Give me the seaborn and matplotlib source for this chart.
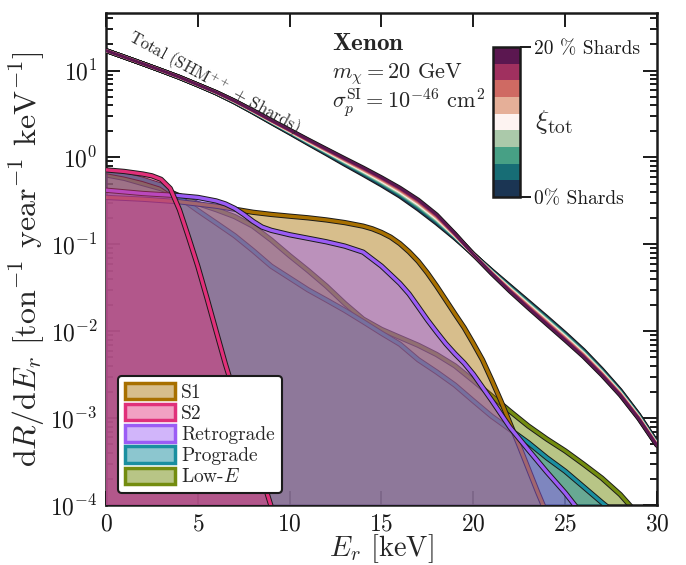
import numpy as np
import pandas as pd
import matplotlib
matplotlib.use("Agg")
import matplotlib.pyplot as plt
import matplotlib.patheffects as pe
from matplotlib.patches import Patch
from matplotlib.colors import ListedColormap, Normalize, to_rgba
from matplotlib.cm import ScalarMappable
from matplotlib.ticker import LogLocator, NullFormatter
import seaborn as sns

# ---------------- data ----------------
# Total rate, SHM++ only (0% shards) and with 20% shards
E_total = list(range(0, 31))
rate_0pct = [17.0, 14.3, 12.0, 10.0, 8.3, 6.8, 5.50, 4.32, 3.31, 2.51, 1.91, 1.445,
             1.10, 0.832, 0.635, 0.481, 0.358, 0.254, 0.175, 0.1175, 0.0767, 0.0501,
             0.0331, 0.0219, 0.01445, 0.00944, 0.00603, 0.00363, 0.00209, 0.0011,
             5.25e-4]
rate_20pct = [17.0, 14.3, 12.0, 10.07, 8.41, 6.87, 5.62, 4.47, 3.47, 2.67, 2.07, 1.60,
              1.245, 0.970, 0.759, 0.586, 0.445, 0.324, 0.219, 0.132, 0.0767, 0.0462,
              0.0288, 0.01854, 0.01208, 0.00789, 0.0051, 0.00313, 0.00184, 9.9e-4,
              4.84e-4]
xi_values = [0, 2.5, 5, 7.5, 10, 12.5, 15, 17.5, 20]   # % shards

E_S1 = [0, 2, 4, 6, 7, 8, 9, 10, 11, 12, 13, 14, 14.5, 15, 15.5, 16, 16.5, 17,
        17.5, 18, 18.5, 19, 19.5, 20, 20.5, 21, 21.5, 22, 22.5, 23, 23.5, 24]
rate_S1 = [0.347, 0.331, 0.309, 0.275, 0.254, 0.234, 0.221, 0.211, 0.202, 0.191,
           0.178, 0.162, 0.151, 0.137, 0.121, 0.102, 0.0822, 0.0638, 0.0468,
           0.0331, 0.0229, 0.0158, 0.011, 0.00724, 0.00468, 0.00275, 0.00158,
           8.7e-4, 4.8e-4, 2.6e-4, 1.41e-4, 7.9e-5]

E_S2 = [0, 1, 2, 2.5, 3, 3.5, 4, 4.5, 5, 5.5, 6, 6.5, 7, 7.5, 8, 8.5, 9]
rate_S2 = [0.72, 0.69, 0.645, 0.615, 0.56, 0.44, 0.25, 0.12, 0.056, 0.024, 0.010,
           0.0042, 0.0019, 8.9e-4, 4.3e-4, 2.1e-4, 9.5e-5]

E_retro = [0, 2, 4, 5, 6, 6.5, 7, 7.5, 8, 8.5, 9, 10, 11, 12, 13, 14, 14.5, 15,
           15.5, 16, 16.5, 17, 17.5, 18, 18.5, 19, 19.5, 20, 21, 22, 23, 24, 25, 25.6]
rate_retro = [0.42, 0.385, 0.363, 0.347, 0.316, 0.292, 0.26, 0.221, 0.184, 0.158,
              0.145, 0.129, 0.1175, 0.107, 0.0955, 0.0813, 0.0676, 0.0562, 0.0447,
              0.0355, 0.0269, 0.0191, 0.0135, 0.0098, 0.0072, 0.0055, 0.0043,
              0.0032, 0.0016, 7.8e-4, 4.3e-4, 2.4e-4, 1.38e-4, 9.5e-5]

E_pro = [0, 1, 2, 3, 4, 5, 6, 7, 8, 9, 10, 11, 12, 13, 14, 15, 16, 17, 18, 19,
         20, 21, 22, 23, 24, 25, 26, 27, 27.3]
rate_pro = [0.69, 0.63, 0.56, 0.48, 0.347, 0.245, 0.176, 0.126, 0.085, 0.056,
            0.041, 0.030, 0.0229, 0.0174, 0.0129, 0.0095, 0.0071, 0.0047, 0.0034,
            0.0024, 0.00158, 0.00105, 7.4e-4, 5.2e-4, 3.5e-4, 2.45e-4, 1.62e-4,
            1.07e-4, 9.5e-5]

E_lowE = [0, 1, 2, 3, 4, 5, 6, 7, 8, 9, 10, 11, 12, 13, 14, 15, 16, 17, 18, 19,
          20, 21, 22, 23, 24, 25, 26, 27, 28, 28.6]
rate_lowE = [0.63, 0.575, 0.50, 0.437, 0.363, 0.295, 0.251, 0.209, 0.162, 0.112,
             0.0741, 0.0501, 0.0331, 0.0209, 0.0138, 0.0105, 0.0085, 0.0069,
             0.0054, 0.0040, 0.0027, 0.0018, 0.0012, 8.1e-4, 5.75e-4, 4.2e-4,
             2.95e-4, 2.04e-4, 1.32e-4, 9.5e-5]

legend_labels = ["S1", "S2", "Retrograde", "Prograde", "Low-$E$"]
x_ticks = [0, 5, 10, 15, 20, 25, 30]
cbar_ticklabels = ["0% Shards", "20 % Shards"]

# ---------------- styles ----------------
edge_colors = {"S1": "#A87000", "S2": "#E0307A", "Retrograde": "#9B5CF5",
               "Prograde": "#1A8FA0", "Low-$E$": "#738C0F"}
alphas = {"S1": 0.45, "S2": 0.45, "Retrograde": 0.45, "Prograde": 0.5, "Low-$E$": 0.5}
xi_colors = ["#1B3553", "#176D75", "#47A085", "#ABC9AA", "#FDF3F1",
             "#E5AF98", "#CF6A63", "#A0305F", "#5B1750"]

sns.set_theme(style="ticks")
plt.rcParams.update({
    "font.family": ["cmr10", "DejaVu Serif"],
    "mathtext.fontset": "cm",
    "axes.formatter.use_mathtext": True,
    "axes.unicode_minus": True,
})

fig = plt.figure(figsize=(6.86, 5.65), dpi=100)
ax = fig.add_axes([0.1545, 0.1062, 0.8032, 0.8708])

components = [  # bottom -> top drawing order
    ("Low-$E$", E_lowE, rate_lowE),
    ("Prograde", E_pro, rate_pro),
    ("S1", E_S1, rate_S1),
    ("Retrograde", E_retro, rate_retro),
    ("S2", E_S2, rate_S2),
]
for i, (name, E, R) in enumerate(components):
    z = 2 + i
    c = edge_colors[name]
    ax.fill_between(E, 1e-7, R, color=c, alpha=alphas[name], lw=0, zorder=z)
    sns.lineplot(x=E, y=R, color=c, lw=2.4, ax=ax, zorder=z + 0.5, sort=False,
                 path_effects=[pe.Stroke(linewidth=3.8, foreground="k"), pe.Normal()])

# total rate curves for the different shard fractions
rows = []
R0 = np.array(rate_0pct)
R20 = np.array(rate_20pct)
for xi in xi_values:
    f = xi / 20.0
    for e, r in zip(E_total, (1 - f) * R0 + f * R20):
        rows.append({"E": e, "rate": r, "xi": xi})
df_tot = pd.DataFrame(rows)
sns.lineplot(data=df_tot, x="E", y="rate", units="xi", estimator=None, color="k",
             lw=3.4, ax=ax, zorder=10, legend=False)
sns.lineplot(data=df_tot, x="E", y="rate", hue="xi", palette=xi_colors, lw=2.0,
             ax=ax, zorder=11, legend=False)

ax.text(5.9, 7.4, "Total (SHM$^{++}$ + Shards)", rotation=-28.7, rotation_mode="anchor",
        ha="center", va="center", fontsize=12, zorder=12)

ax.set_yscale("log")
ax.set_xlim(0, 30)
ax.set_ylim(1e-4, 46)
ax.set_xticks(x_ticks)
ax.yaxis.set_minor_locator(LogLocator(base=10, subs=np.arange(2, 10), numticks=20))
ax.yaxis.set_minor_formatter(NullFormatter())
ax.tick_params(which="both", direction="in", top=True, right=True, width=1.4, colors="k")
ax.tick_params(which="major", length=10, labelsize=17, pad=6)
ax.tick_params(which="minor", length=5)
for s in ax.spines.values():
    s.set_linewidth(1.8)
    s.set_color("k")
ax.set_xlabel(r"$E_r$ [keV]", fontsize=20.5, labelpad=-2)
ax.set_ylabel(r"d$R$/d$E_r$ [ton$^{-1}$ year$^{-1}$ keV$^{-1}$]", fontsize=23, labelpad=2)

ax.text(0.41, 0.925, r"$\mathbf{Xenon}$", transform=ax.transAxes, fontsize=18, va="baseline")
ax.text(0.41, 0.868, r"$m_\chi = 20$ GeV", transform=ax.transAxes, fontsize=16, va="baseline")
ax.text(0.41, 0.807, r"$\sigma_p^{\rm SI} = 10^{-46}$ cm$^2$", transform=ax.transAxes,
        fontsize=16, va="baseline")

handles = [Patch(facecolor=to_rgba(edge_colors[l], alphas[l]), edgecolor=edge_colors[l],
                 lw=2.5, label=l) for l in legend_labels]
leg = ax.legend(handles=handles, loc="lower left", bbox_to_anchor=(0.022, 0.024),
                borderaxespad=0, fontsize=14, frameon=True, fancybox=True, framealpha=1,
                edgecolor="k", handlelength=2.6, handleheight=0.9, labelspacing=0.12,
                handletextpad=0.3, borderpad=0.35)
leg.get_frame().set_linewidth(1.5)
leg.set_zorder(20)

cax = fig.add_axes([0.7187, 0.6513, 0.0394, 0.2655])
sm = ScalarMappable(cmap=ListedColormap(xi_colors), norm=Normalize(0, 20))
cb = fig.colorbar(sm, cax=cax, ticks=[0, 20])
cb.ax.set_yticklabels(cbar_ticklabels)
cb.ax.minorticks_off()
cb.outline.set_linewidth(1.8)
cb.outline.set_edgecolor("k")
cb.ax.tick_params(direction="out", length=8, width=1.4, labelsize=14, pad=2, colors="k")
cax.text(1.55, 0.5, r"$\xi_{\rm tot}$", transform=cax.transAxes, fontsize=20, va="center")

fig.savefig("out.png", dpi=100)
